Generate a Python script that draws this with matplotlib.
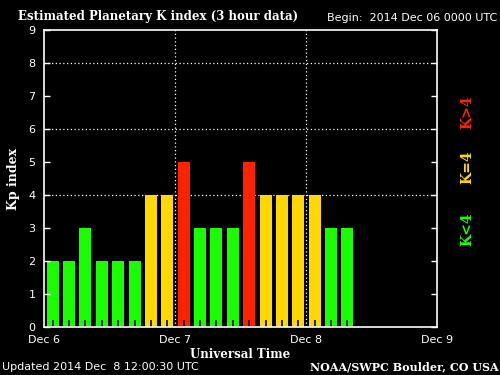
import numpy as np
import matplotlib.pyplot as plt

# 3-hour Kp values starting 2014 Dec 06 0000 UTC
kp = [2, 2, 3, 2, 2, 2, 4, 4, 5, 3, 3, 3, 5, 4, 4, 4, 4, 3, 3]
day_labels = ['Dec 6', 'Dec 7', 'Dec 8', 'Dec 9']
day_hours = [0, 24, 48, 72]

green = '#19ff00'
yellow = '#ffd800'
red = '#ff2200'

def kcolor(k):
    if k < 4:
        return green
    if k == 4:
        return yellow
    return red

hours = np.arange(len(kp)) * 3 + 1.6
colors = [kcolor(k) for k in kp]

fig = plt.figure(figsize=(5, 3.75), dpi=100, facecolor='black')
ax = fig.add_axes([0.088, 0.128, 0.786, 0.792], facecolor='black')

# dotted grid behind the bars
for y in [4, 6, 8]:
    ax.axhline(y, color='white', lw=0.9, ls=(0, (1, 2)), zorder=0.5)
for x in [24, 48]:
    ax.axvline(x, color='white', lw=0.9, ls=(0, (1, 2)), zorder=0.5)

ax.bar(hours, kp, width=2.2, color=colors, zorder=1)

ax.set_xlim(0, 72)
ax.set_ylim(0, 9)
for s in ax.spines.values():
    s.set_color('white')
    s.set_linewidth(1.2)

ax.set_yticks(range(10))
ax.set_yticklabels([str(i) for i in range(10)])
ax.tick_params(axis='y', colors='white', direction='in', length=4, width=1,
               labelsize=8, pad=6, right=True, labelright=False)
ax.set_xticks(day_hours)
ax.set_xticklabels(day_labels)
ax.set_xticks(hours, minor=True)
ax.tick_params(axis='x', which='major', length=0, colors='white', labelsize=8, pad=6)
ax.tick_params(axis='x', which='minor', direction='in', length=5, width=1.2,
               color='black')

ax.set_xlabel('Universal Time', color='white', family='DejaVu Serif',
              fontweight='bold', fontsize=8.5, labelpad=2)
ax.set_ylabel('Kp index', color='white', family='DejaVu Serif',
              fontweight='bold', fontsize=9, labelpad=6)

fig.text(0.035, 0.955, 'Estimated Planetary K index (3 hour data)', color='white',
         family='DejaVu Serif', fontweight='bold', fontsize=8.5, va='center')
fig.text(0.995, 0.952, 'Begin:  2014 Dec 06 0000 UTC', color='white',
         family='DejaVu Sans', fontsize=8, va='center', ha='right')
fig.text(0.003, 0.022, 'Updated 2014 Dec  8 12:00:30 UTC', color='white',
         family='DejaVu Sans', fontsize=8, va='center')
fig.text(0.998, 0.022, 'NOAA/SWPC Boulder, CO USA', color='white',
         family='DejaVu Serif', fontweight='bold', fontsize=8, va='center', ha='right')

fig.text(0.935, 0.39, 'K<4', color=green, rotation=90, family='DejaVu Serif',
         fontweight='bold', fontsize=10, ha='center', va='center')
fig.text(0.935, 0.555, 'K=4', color=yellow, rotation=90, family='DejaVu Serif',
         fontweight='bold', fontsize=10, ha='center', va='center')
fig.text(0.935, 0.7, 'K>4', color=red, rotation=90, family='DejaVu Serif',
         fontweight='bold', fontsize=10, ha='center', va='center')

fig.savefig('out.png', dpi=100, facecolor='black')
